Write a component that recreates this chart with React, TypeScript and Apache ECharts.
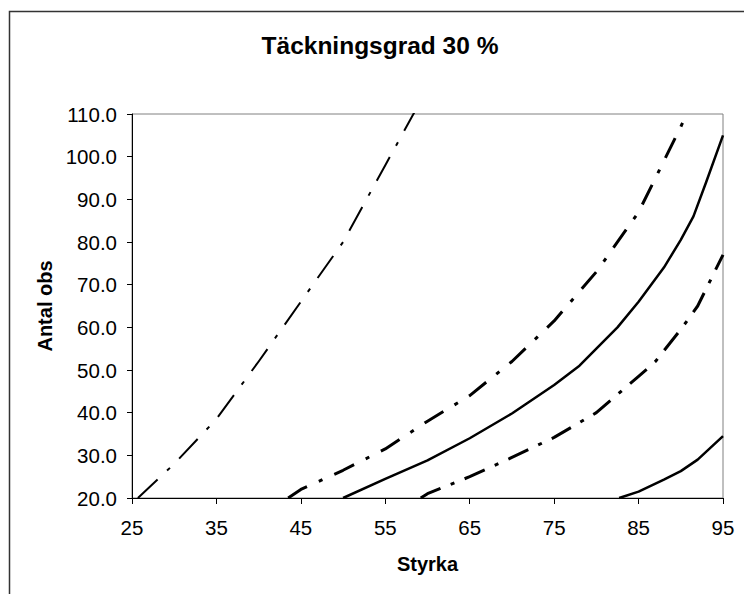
import React, { useEffect, useRef } from "react";
import * as echarts from "echarts";

const TITLE = "Täckningsgrad 30 %";
const X_NAME = "Styrka";
const Y_NAME = "Antal obs";

const X_MIN = 25;
const X_MAX = 95;
const X_STEP = 10;
const Y_MIN = 20;
const Y_MAX = 110;
const Y_STEP = 10;

// Curve A (long dash-dot, leftmost)
const A_X = [25.7, 30, 35, 40, 45, 50, 55, 60];
const A_Y = [20, 28, 38.5, 52, 66, 80, 98, 116];
// Curve B (dash-dot)
const B_X = [43.5, 45, 50, 55, 60, 65, 70, 75, 80, 85, 90, 92];
const B_Y = [20, 22, 26.5, 31.5, 38, 44, 52, 61.5, 73, 87, 107, 116];
// Curve C (solid)
const C_X = [50, 55, 60, 65, 70, 75, 78, 80, 82.5, 85, 88, 90, 91.5, 93, 95];
const C_Y = [20, 24.5, 28.8, 34, 39.8, 46.5, 51, 55, 60, 66, 74, 80.5, 86, 94, 105];
// Curve D (dash-dot)
const D_X = [59.2, 60, 65, 70, 75, 80, 85, 87, 90, 92, 95];
const D_Y = [20, 21, 25, 29.5, 34.2, 40, 48.5, 52, 59.5, 65, 77];
// Curve E (solid, lower right)
const E_X = [82.7, 85, 88, 90, 92, 95];
const E_Y = [20, 21.5, 24.3, 26.3, 29, 34.5];

const FONT = "'Liberation Sans', Arial, sans-serif";

const toData = (xs: number[], ys: number[]) => xs.map((x, i) => [x - X_MIN, ys[i]]);

export default function App() {
  const ref = useRef<HTMLDivElement>(null);
  useEffect(() => {
    if (!ref.current) return;
    const chart = echarts.init(ref.current, undefined, { renderer: "svg" });
    const mk = (name: string, xs: number[], ys: number[], width: number, type: any) => ({
      name,
      type: "line",
      data: toData(xs, ys),
      showSymbol: false,
      symbol: "none",
      clip: true,
      lineStyle: { color: "#000", width, type, cap: "butt", join: "round" },
      z: 3,
    });
    chart.setOption({
      animation: false,
      backgroundColor: "#fff",
      graphic: [
        {
          type: "rect",
          shape: { x: 9.5, y: 11.5, width: 800, height: 700 },
          style: { fill: "none", stroke: "#333", lineWidth: 1.5 },
          silent: true,
          z: -10,
        },
        {
          type: "text",
          x: 380,
          y: 45,
          style: {
            text: TITLE,
            align: "center",
            verticalAlign: "middle",
            fontSize: 24.5,
            fontWeight: "bold",
            fontFamily: FONT,
            fill: "#000",
          },
        },
      ],
      grid: {
        left: 132,
        right: 21,
        top: 114,
        bottom: 96,
        show: true,
        borderColor: "#808080",
        borderWidth: 1,
        backgroundColor: "#fff",
      },
      xAxis: {
        type: "value",
        min: 0,
        max: X_MAX - X_MIN,
        interval: X_STEP,
        name: X_NAME,
        nameLocation: "middle",
        nameGap: 56,
        nameTextStyle: { fontSize: 20, fontWeight: "bold", fontFamily: FONT, color: "#000" },
        axisLine: { show: true, onZero: false, lineStyle: { color: "#000", width: 1 } },
        axisTick: { show: true, inside: false, length: 6, lineStyle: { color: "#000" } },
        axisLabel: {
          margin: 19,
          fontSize: 20.5,
          fontFamily: FONT,
          color: "#000",
          formatter: (v: number) => String(v + X_MIN),
        },
        splitLine: { show: false },
      },
      yAxis: {
        type: "value",
        min: Y_MIN,
        max: Y_MAX,
        interval: Y_STEP,
        name: Y_NAME,
        nameLocation: "middle",
        nameGap: 76,
        nameTextStyle: { fontSize: 20, fontWeight: "bold", fontFamily: FONT, color: "#000" },
        axisLine: { show: true, onZero: false, lineStyle: { color: "#000", width: 1 } },
        axisTick: { show: true, inside: false, length: 5, lineStyle: { color: "#000" } },
        axisLabel: {
          margin: 15,
          fontSize: 20.5,
          fontFamily: FONT,
          color: "#000",
          formatter: (v: number) => v.toFixed(1),
        },
        splitLine: { show: false },
      },
      series: [
        mk("A", A_X, A_Y, 2, [27, 13, 4, 13]),
        mk("B", B_X, B_Y, 3, [22, 13, 4, 13]),
        mk("C", C_X, C_Y, 2.5, "solid"),
        mk("D", D_X, D_Y, 3, [22, 11, 4, 11]),
        mk("E", E_X, E_Y, 2.5, "solid"),
      ],
    });
    return () => chart.dispose();
  }, []);
  return (
    <div
      ref={ref}
      style={{ position: "fixed", left: 0, top: 0, width: 744, height: 594 }}
    />
  );
}
